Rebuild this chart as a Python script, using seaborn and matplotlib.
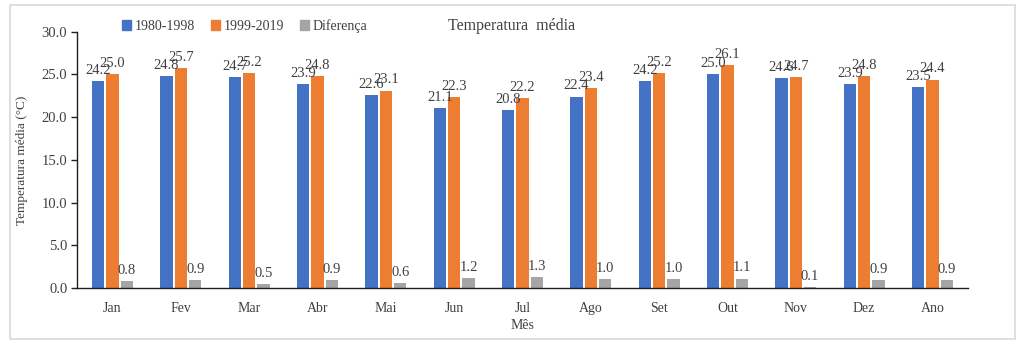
import matplotlib
matplotlib.use("Agg")
import matplotlib.pyplot as plt
import seaborn as sns
import pandas as pd
from matplotlib.patches import Rectangle

meses = ["Jan", "Fev", "Mar", "Abr", "Mai", "Jun", "Jul", "Ago", "Set", "Out", "Nov", "Dez", "Ano"]
serie_1980_1998 = [24.2, 24.8, 24.7, 23.9, 22.6, 21.1, 20.8, 22.4, 24.2, 25.0, 24.6, 23.9, 23.5]
serie_1999_2019 = [25.0, 25.7, 25.2, 24.8, 23.1, 22.3, 22.2, 23.4, 25.2, 26.1, 24.7, 24.8, 24.4]
diferenca = [0.8, 0.9, 0.5, 0.9, 0.6, 1.2, 1.3, 1.0, 1.0, 1.1, 0.1, 0.9, 0.9]
series_names = ["1980-1998", "1999-2019", "Diferença"]
yticks = [0, 5, 10, 15, 20, 25, 30]

df = pd.DataFrame({
    "Mês": meses * 3,
    "valor": serie_1980_1998 + serie_1999_2019 + diferenca,
    "serie": [series_names[0]] * len(meses) + [series_names[1]] * len(meses) + [series_names[2]] * len(meses),
})

sns.set_theme(style="white")
plt.rcParams["font.family"] = ["Liberation Serif", "DejaVu Serif"]
txt = "#404040"

fig = plt.figure(figsize=(10.24, 3.48), dpi=100)
ax = fig.add_axes([0.0752, 0.1724, 0.8701, 0.7365])

palette = {"1980-1998": "#4472C4", "1999-2019": "#ED7D31", "Diferença": "#A5A5A5"}
sns.barplot(data=df, x="Mês", y="valor", hue="serie", order=meses, hue_order=series_names,
            palette=palette, saturation=1, width=0.63, gap=0.15, linewidth=0, ax=ax, legend=False)

for cont in ax.containers:
    ax.bar_label(cont, fmt="%.1f", padding=3, fontsize=10.5, color=txt)

ax.set_ylim(0, 30)
ax.set_yticks(yticks)
ax.set_yticklabels([f"{v:.1f}" for v in yticks])
ax.set_xlim(-0.52, len(meses) - 0.48)
for s in ["top", "right"]:
    ax.spines[s].set_visible(False)
for s in ["left", "bottom"]:
    ax.spines[s].set_color("#202020")
    ax.spines[s].set_linewidth(1.0)
ax.tick_params(axis="y", which="both", left=True, length=4, width=1, color="#202020",
               labelsize=10.5, labelcolor=txt, pad=3)
ax.tick_params(axis="x", bottom=False, labelsize=10, labelcolor=txt, pad=4)
ax.set_ylabel("Temperatura média (°C)", fontsize=9.5, color=txt, labelpad=10)
ax.set_xlabel("Mês", fontsize=10, color=txt, labelpad=3)

# legend
handles = [Rectangle((0, 0), 1, 1, color=palette[n]) for n in series_names]
fig.legend(handles, series_names, loc="center left", bbox_to_anchor=(0.119, 0.925),
           ncol=3, frameon=False, fontsize=10, handlelength=0.65, handleheight=0.65,
           handletextpad=0.3, columnspacing=1.1, labelcolor=txt, borderaxespad=0, borderpad=0)

fig.text(0.5, 0.925, "Temperatura  média", ha="center", va="center", fontsize=11.5, color=txt)

# outer border
fig.add_artist(Rectangle((0.0098, 0.026), 0.981, 0.96, transform=fig.transFigure,
                         fill=False, edgecolor="#D9D9D9", linewidth=1.2))

fig.savefig("out.png", dpi=100, facecolor="white")
